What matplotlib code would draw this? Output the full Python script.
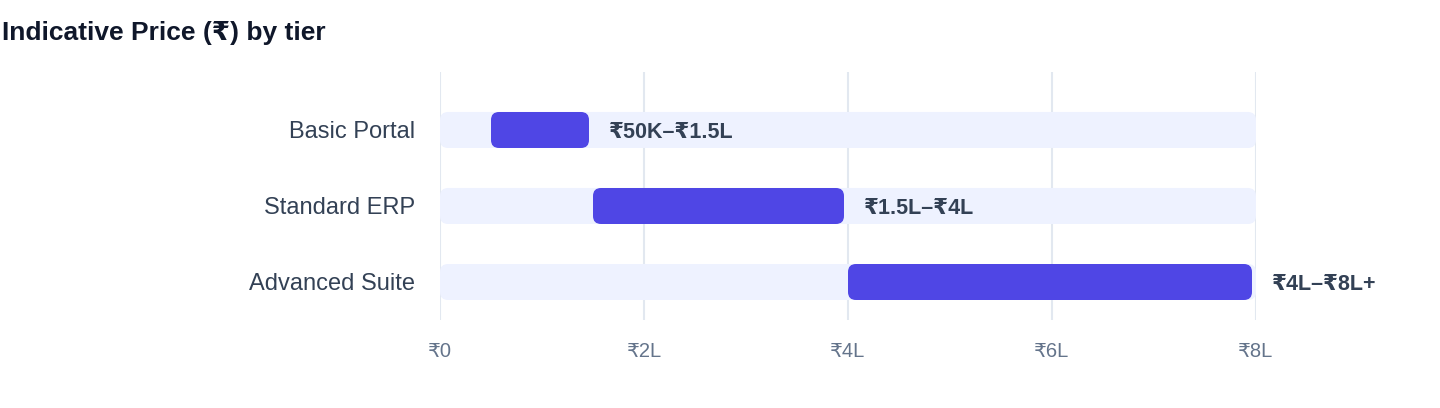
import matplotlib
matplotlib.use("Agg")
import matplotlib.pyplot as plt
from matplotlib.patches import FancyBboxPatch

plt.rcParams['font.family'] = ['Liberation Sans', 'DejaVu Sans']

# data
tiers = ["Basic Portal", "Standard ERP", "Advanced Suite"]
low = [50000, 150000, 400000]
high = [150000, 400000, 800000]
range_labels = ["₹50K–₹1.5L", "₹1.5L–₹4L", "₹4L–₹8L+"]
ticks = [0, 200000, 400000, 600000, 800000]
tick_labels = ["₹0", "₹2L", "₹4L", "₹6L", "₹8L"]
axis_max = 800000

W, H = 1440, 408
fig = plt.figure(figsize=(W / 100, H / 100), dpi=100)
ax = fig.add_axes([440 / W, 1 - 320 / H, (1256 - 440) / W, (320 - 72) / H])
ax.set_xlim(0, axis_max)
ax.set_ylim(2.5, -0.763)

# pixels per data unit, for round corners that stay round
px_x = (1256 - 440) / axis_max
px_y = (320 - 72) / 3.263
radius_px = 8
bar_h = 36 / px_y
rx = radius_px / px_x
aspect = (radius_px / px_y) / rx
inset = 4 / px_x  # small gap at the end of each coloured bar

for i, name in enumerate(tiers):
    # background track
    track = FancyBboxPatch((0, i - bar_h / 2), axis_max, bar_h,
                           boxstyle=f"round,pad=0,rounding_size={rx}",
                           mutation_aspect=aspect, fc="#eef2ff", ec="none", zorder=2)
    ax.add_patch(track)
    bar = FancyBboxPatch((low[i], i - bar_h / 2), high[i] - low[i] - inset, bar_h,
                         boxstyle=f"round,pad=0,rounding_size={rx}",
                         mutation_aspect=aspect, fc="#4f46e5", ec="none", zorder=3)
    ax.add_patch(bar)
    ax.annotate(range_labels[i], (high[i] - inset, i), xytext=(14.4, 0), textcoords="offset points",
                ha="left", va="center_baseline", fontsize=15.5, fontweight="bold",
                color="#334155", annotation_clip=False)

ax.set_yticks(range(len(tiers)))
ax.set_yticklabels(tiers, fontsize=17, color="#334155")
ax.set_xticks(ticks)
ax.set_xticklabels(tick_labels, fontsize=14.5, color="#64748b")
ax.tick_params(axis="both", length=0)
ax.tick_params(axis="y", pad=18)
ax.tick_params(axis="x", pad=15.5)
ax.grid(axis="x", color="#e2e8f0", linewidth=1.5, zorder=0)
ax.set_axisbelow(True)
for s in ax.spines.values():
    s.set_visible(False)

fig.text(2 / W, 1 - 40 / H, "Indicative Price (₹) by tier", fontsize=19, fontweight="bold",
         color="#0f172a", ha="left", va="baseline")

fig.savefig("out.png", dpi=100)
